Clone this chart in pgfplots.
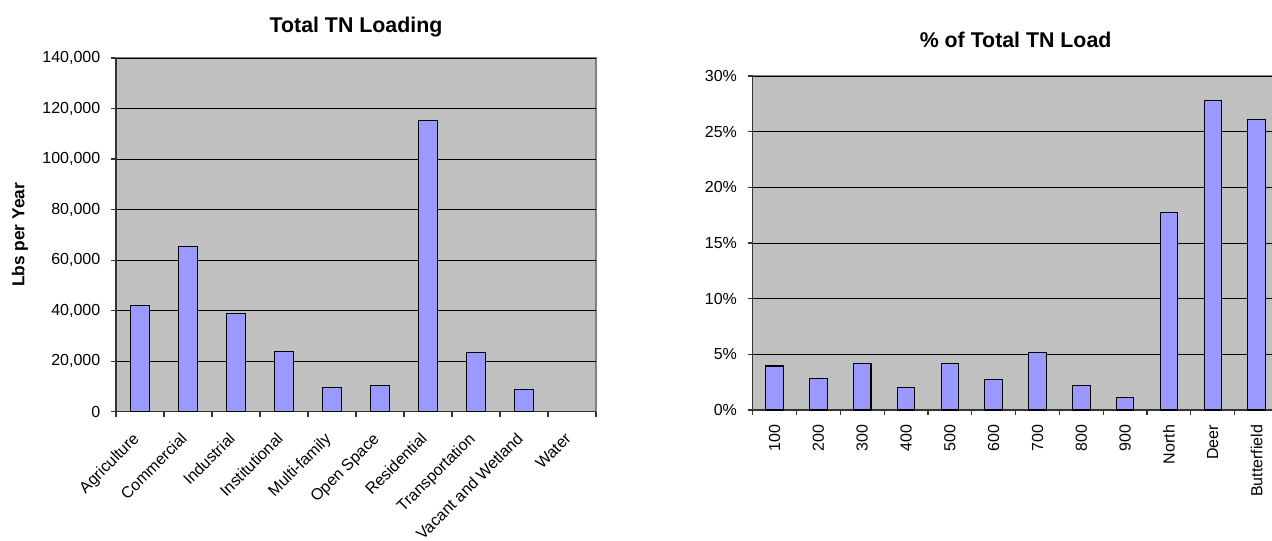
\documentclass[border=0pt]{standalone}
\usepackage{fontspec}
\setmainfont{Liberation Sans}
\usepackage{pgfplots}
\pgfplotsset{compat=1.18}
\definecolor{barfill}{HTML}{9999FF}
\definecolor{plotbg}{HTML}{C0C0C0}
\definecolor{framegray}{HTML}{808080}
\pgfplotsset{
  excel/.style={
    scale only axis,
    anchor=south west,
    axis background/.style={fill=plotbg, draw=framegray, line width=0.9pt},
    axis x line*=bottom, axis y line*=left,
    axis line style={black!80, line width=1.1pt},
    ymajorgrids, grid style={black, line width=0.75pt},
    tick align=outside,
    major tick length=3.75pt,
    tick style={black!80, line width=0.9pt},
    ytick pos=left, xtick pos=bottom,
    font=\fontsize{12}{14}\selectfont,
    tick label style={font=\fontsize{12}{14}\selectfont},
    yticklabel style={xshift=-4.5pt},
    /pgf/number format/assume math mode=true,
    xticklabel={\relax},
  },
}
\begin{document}
\begin{tikzpicture}
\clip (0,0) rectangle (954pt,405pt);
\begin{axis}[excel,
  at={(87pt,96.2pt)}, width=360pt, height=265.3pt,
  xmin=-0.5, xmax=9.5, ymin=0, ymax=140000,
  xtick={-0.5,0.5,...,9.5},
  extra x ticks={0,1,...,9},
  extra x tick labels={Agriculture,Commercial,Industrial,Institutional,Multi-family,Open Space,Residential,Transportation,Vacant and Wetland,Water},
  extra x tick style={major tick length=0pt, tick label style={yshift=-21pt, rotate=45, anchor=base east, inner sep=0pt, font=\fontsize{12}{14}\selectfont}},
  ytick={0,20000,...,140000},
  scaled y ticks=false,
  yticklabel style={/pgf/number format/.cd, fixed, 1000 sep={,}},
  title={Total TN Loading},
  every axis title/.style={at={(0.5,1)}, anchor=base, yshift=19.5pt, font=\fontsize{16}{18}\selectfont\bfseries},
  ylabel={Lbs per Year},
  every axis y label/.style={at={(axis description cs:-0.2,0.5)}, rotate=90, anchor=center, font=\fontsize{13}{15}\selectfont\bfseries},
]
\addplot[ybar, bar width=0.4, fill=barfill, draw=black, line width=0.8pt] coordinates {
  (0,42000) (1,65400) (2,39000) (3,23700) (4,9700) (5,10200) (6,115200) (7,23300) (8,8900)
};
\end{axis}
\begin{axis}[excel,
  at={(564.5pt,97.5pt)}, width=394.4pt, height=250.5pt,
  xmin=-0.5, xmax=11.5, ymin=0, ymax=30,
  xtick={-0.5,0.5,...,11.5},
  extra x ticks={0,1,...,11},
  extra x tick labels={100,200,300,400,500,600,700,800,900,North,Deer,Butterfield},
  extra x tick style={major tick length=0pt, tick label style={yshift=-11pt, rotate=90, anchor=east, inner sep=0pt, font=\fontsize{12}{14}\selectfont}},
  ytick={0,5,...,30},
  yticklabel={\pgfmathprintnumber{\tick}\%},
  title={\% of Total TN Load},
  every axis title/.style={at={(0.5,1)}, anchor=base, yshift=21.75pt, font=\fontsize{16}{18}\selectfont\bfseries},
]
\addplot[ybar, bar width=0.4, fill=barfill, draw=black, line width=0.8pt] coordinates {
  (0,3.95) (1,2.87) (2,4.16) (3,1.98) (4,4.16) (5,2.75) (6,5.15) (7,2.19) (8,1.1) (9,17.75) (10,27.8) (11,26.1)
};
\end{axis}
\end{tikzpicture}
\end{document}
